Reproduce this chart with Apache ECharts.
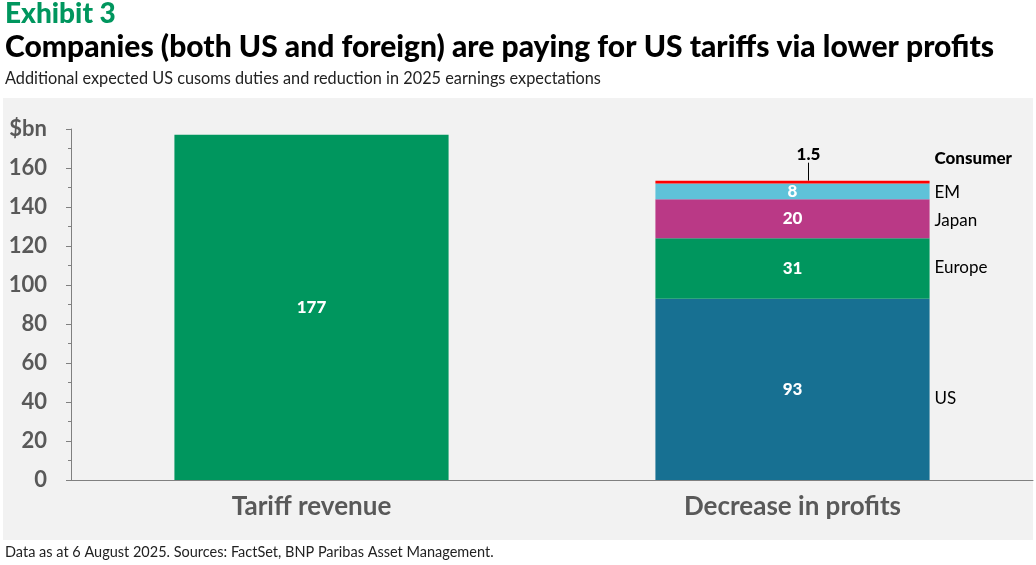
<!DOCTYPE html>
<html>
<head>
<meta charset="utf-8">
<script src="https://cdn.jsdelivr.net/npm/echarts@6/dist/echarts.min.js"></script>
<style>
  html, body { margin: 0; padding: 0; background: #fff; }
  #chart { width: 1036px; height: 565px; }
</style>
</head>
<body>
<div id="chart"></div>
<script>
var categories = ['Tariff revenue', 'Decrease in profits'];
var tariffValues = [177, '-'];
var segmentNames = ['US', 'Europe', 'Japan', 'EM', 'Consumer'];
var segmentValues = [93, 31, 20, 8, 1.5];
var segmentColors = ['#177092', '#00965E', '#BA3986', '#5FC2D9', '#FF0000'];
var yTicks = [0, 20, 40, 60, 80, 100, 120, 140, 160, 180];

var fontMain = 'Lato, "Open Sans", sans-serif';

// offsets of the side labels from the segment middle (px)
var nameDy = [9, -1, 2, 1, -24];

var series = [{
    name: 'Tariff revenue',
    type: 'bar',
    stack: 'total',
    barWidth: '57%',
    itemStyle: { color: '#00965E' },
    label: {
        show: true, position: 'inside', color: '#fff',
        fontFamily: fontMain, fontWeight: 900, fontSize: 17
    },
    data: tariffValues
}];

var cum = 0;
segmentNames.forEach(function (name, i) {
    var v = segmentValues[i];
    var mid = cum + v / 2;
    cum += v;
    var isConsumer = name === 'Consumer';
    series.push({
        name: name,
        type: 'bar',
        stack: 'total',
        barWidth: '57%',
        itemStyle: { color: segmentColors[i] },
        label: isConsumer ? {
            show: true, position: 'top', color: '#000',
            fontFamily: fontMain, fontWeight: 900, fontSize: 17
        } : {
            show: true, position: 'inside', color: '#fff',
            fontFamily: fontMain, fontWeight: 900, fontSize: 17
        },
        labelLayout: isConsumer ? { dx: 16, dy: -13 } : null,
        labelLine: isConsumer ? { show: true, lineStyle: { color: '#000', width: 1 } } : null,
        data: ['-', v],
        markPoint: {
            symbol: 'circle',
            symbolSize: 0,
            silent: true,
            label: {
                show: true,
                position: 'right',
                distance: 0,
                offset: [142, nameDy[i]],
                formatter: name,
                color: '#000',
                fontFamily: fontMain,
                fontWeight: isConsumer ? 900 : 'normal',
                fontSize: 17
            },
            data: [{ coord: [categories[1], mid] }]
        }
    });
});

var chart = echarts.init(document.getElementById('chart'), null, { renderer: 'canvas' });
chart.setOption({
    animation: false,
    backgroundColor: '#ffffff',
    graphic: [
        { type: 'rect', z: -10, shape: { x: 3, y: 98, width: 1030, height: 442 }, style: { fill: '#F2F2F2' } },
        { type: 'text', left: 5, top: 0, style: { text: 'Exhibit 3', fill: '#00965E', font: '900 28px ' + fontMain } },
        { type: 'text', left: 5, top: 32, style: { text: 'Companies (both US and foreign) are paying for US tariffs via lower profits', fill: '#000', font: '900 30px ' + fontMain } },
        { type: 'text', left: 5, top: 71, style: { text: 'Additional expected US cusoms duties and reduction in 2025 earnings expectations', fill: '#222', font: '16.3px ' + fontMain } },
        { type: 'text', left: 5, top: 545, style: { text: 'Data as at 6 August 2025. Sources: FactSet, BNP Paribas Asset Management.', fill: '#222', font: '14.5px ' + fontMain } }
    ],
    grid: { left: 71, right: 3, top: 129, bottom: 85 },
    xAxis: {
        type: 'category',
        data: categories,
        axisLine: { lineStyle: { color: '#808080', width: 1 } },
        axisTick: { show: false },
        axisLabel: {
            color: '#595959', fontFamily: fontMain, fontWeight: 'bold', fontSize: 26, margin: 14
        }
    },
    yAxis: {
        type: 'value',
        min: yTicks[0],
        max: yTicks[yTicks.length - 1],
        interval: 20,
        splitLine: { show: false },
        axisLine: { show: true, lineStyle: { color: '#808080', width: 1 } },
        axisTick: { show: true, length: 5, lineStyle: { color: '#808080' } },
        minorTick: { show: true, splitNumber: 2, length: 3, lineStyle: { color: '#808080' } },
        axisLabel: {
            color: '#595959', fontFamily: fontMain, fontWeight: 'bold', fontSize: 22, margin: 24,
            formatter: function (v) { return v === 180 ? '$bn' : String(v); }
        }
    },
    series: series
});
</script>
</body>
</html>
